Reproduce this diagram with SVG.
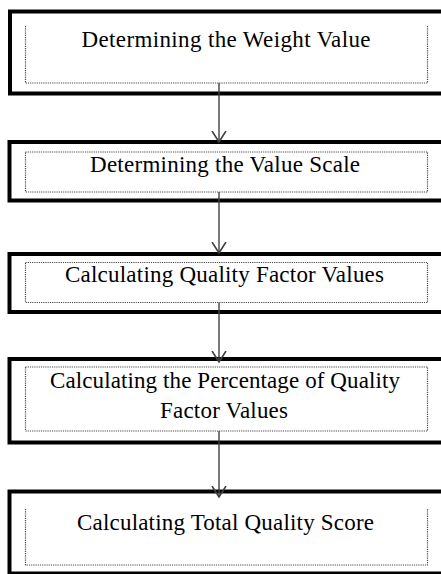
<svg xmlns="http://www.w3.org/2000/svg" width="441" height="574" viewBox="0 0 441 574">
  <style>
    .outer { fill: #ffffff; stroke: #000000; stroke-width: 4; }
    .inner { fill: none; stroke: #4a4a4a; stroke-width: 1.2; stroke-dasharray: 1.2 1; }
    .label { font-family: "Liberation Serif", "Times New Roman", serif; font-size: 23px; fill: #000000; text-anchor: middle; }
    .link { stroke: #404040; stroke-width: 1.4; fill: none; }
  </style>
  <defs>
    <!-- open V arrowhead, tip on the +x axis so orient="auto" points it along the line -->
    <marker id="arrow" viewBox="0 0 12 16" refX="11" refY="8" markerWidth="12" markerHeight="16" markerUnits="userSpaceOnUse" orient="auto">
      <path d="M0,1 L11,8 L0,15" fill="none" stroke="#404040" stroke-width="1.6"/>
    </marker>
  </defs>

  <g id="step-weight">
    <rect class="outer" x="10" y="11.5" width="460" height="82"/>
    <path class="inner" d="M25.5,26 V83 H427.5 V26"/>
    <text class="label" x="226" y="47" textLength="289" lengthAdjust="spacing">Determining the Weight Value</text>
  </g>

  <g id="step-scale">
    <rect class="outer" x="9.5" y="142" width="460" height="58.5"/>
    <rect class="inner" x="25.5" y="152" width="402" height="40"/>
    <text class="label" x="225" y="172" textLength="270" lengthAdjust="spacing">Determining the Value Scale</text>
  </g>

  <g id="step-factor">
    <rect class="outer" x="9.5" y="254" width="460" height="58"/>
    <rect class="inner" x="25.5" y="262.5" width="402" height="40"/>
    <text class="label" x="224.5" y="282" textLength="319" lengthAdjust="spacing">Calculating Quality Factor Values</text>
  </g>

  <g id="step-percentage">
    <rect class="outer" x="9.5" y="359" width="460" height="83.5"/>
    <rect class="inner" x="25.5" y="367" width="402" height="64"/>
    <text class="label" x="225" y="388" textLength="350" lengthAdjust="spacing">Calculating the Percentage of Quality</text>
    <text class="label" x="224" y="418" textLength="128" lengthAdjust="spacing">Factor Values</text>
  </g>

  <g id="step-total">
    <rect class="outer" x="9.5" y="491.5" width="460" height="82"/>
    <path class="inner" d="M25.5,509 V565 H427.5 V509"/>
    <text class="label" x="225.5" y="530" textLength="297" lengthAdjust="spacing">Calculating Total Quality Score</text>
  </g>

  <g id="connectors">
    <line class="link" x1="219" y1="83" x2="219" y2="142" marker-end="url(#arrow)"/>
    <line class="link" x1="219" y1="192" x2="219" y2="253" marker-end="url(#arrow)"/>
    <line class="link" x1="219" y1="302.5" x2="219" y2="362" marker-end="url(#arrow)"/>
    <line class="link" x1="219" y1="431" x2="219" y2="497" marker-end="url(#arrow)"/>
  </g>
</svg>
